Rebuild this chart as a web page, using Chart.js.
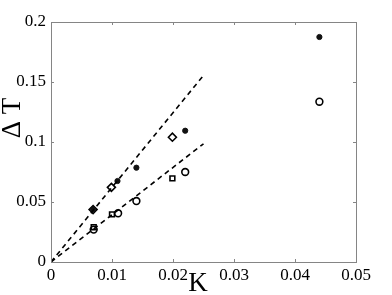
<!DOCTYPE html>
<html><head><meta charset="utf-8">
<script src="https://cdn.jsdelivr.net/npm/chart.js@4/dist/chart.umd.min.js"></script>
<style>html,body{margin:0;padding:0;background:#fff}#wrap{width:392px;height:295px;position:relative}</style>
</head><body><div id="wrap"><canvas id="c" width="392" height="295"></canvas></div>
<script>
const xTicks = [0, 0.01, 0.02, 0.03, 0.04, 0.05];
const yTicks = [0, 0.05, 0.1, 0.15, 0.2];
const starK  = [0.0069, 0.0109, 0.0140, 0.0220, 0.0440];
const starT  = [0.0439, 0.0675, 0.0786, 0.1094, 0.1875];
const circK  = [0.0070, 0.0110, 0.0140, 0.0220, 0.0440];
const circT  = [0.0270, 0.0406, 0.0508, 0.0750, 0.1336];
const diamK  = [0.0069, 0.0099, 0.0199];
const diamT  = [0.0437, 0.0622, 0.1040];
const sqK    = [0.0070, 0.0100, 0.0199];
const sqT    = [0.0290, 0.0397, 0.0697];
const fitK   = [0, 0.025];
const fitUpper = [0, 0.1555];
const fitLower = [0, 0.0985];

const pts = (xs, ys) => xs.map((x, i) => ({x, y: ys[i]}));

const frame = {
  id: 'frame',
  afterDatasetsDraw(chart) {
    const {ctx, chartArea: a, scales: {x, y}} = chart;
    ctx.save();
    ctx.strokeStyle = '#858585';
    ctx.lineWidth = 1;
    ctx.strokeRect(Math.round(a.left) + 0.5, Math.round(a.top) + 0.5, Math.round(a.right - a.left), Math.round(a.bottom - a.top));
    const tl = 3;
    ctx.beginPath();
    xTicks.forEach(v => {
      const px = Math.round(x.getPixelForValue(v)) + 0.5;
      ctx.moveTo(px, a.bottom); ctx.lineTo(px, a.bottom - tl);
      ctx.moveTo(px, a.top); ctx.lineTo(px, a.top + tl);
    });
    yTicks.forEach(v => {
      const py = Math.round(y.getPixelForValue(v)) + 0.5;
      ctx.moveTo(a.left, py); ctx.lineTo(a.left + tl, py);
      ctx.moveTo(a.right, py); ctx.lineTo(a.right - tl, py);
    });
    ctx.stroke();
    ctx.fillStyle = '#000';
    ctx.font = '27px "Liberation Serif", "Times New Roman", serif';
    ctx.textAlign = 'center';
    ctx.textBaseline = 'middle';
    ctx.fillText('K', 198, 284);
    ctx.translate(13, 118);
    ctx.rotate(-Math.PI / 2);
    ctx.fillText('Δ T', 0, 0);
    ctx.restore();
  }
};

const tickFont = {family: '"Liberation Serif", "Times New Roman", serif', size: 17};

new Chart(document.getElementById('c'), {
  type: 'scatter',
  data: {
    datasets: [
      {data: pts(fitK, fitUpper), showLine: true, borderColor: '#000', borderWidth: 1.6, borderDash: [5, 4], pointRadius: 0, fill: false},
      {data: pts(fitK, fitLower), showLine: true, borderColor: '#000', borderWidth: 1.6, borderDash: [5, 4], pointRadius: 0, fill: false},
      {data: pts(starK, starT), pointStyle: 'circle', pointRadius: 2.6, backgroundColor: '#111', borderColor: '#111', borderWidth: 1},
      {data: pts(circK, circT), pointStyle: 'circle', pointRadius: 3.4, backgroundColor: 'rgba(0,0,0,0)', borderColor: '#000', borderWidth: 1.6},
      {data: pts(diamK, diamT), pointStyle: 'rectRot', pointRadius: 4, backgroundColor: 'rgba(0,0,0,0)', borderColor: '#000', borderWidth: 1.6},
      {data: pts(sqK, sqT), pointStyle: 'rect', pointRadius: 3.4, backgroundColor: 'rgba(0,0,0,0)', borderColor: '#000', borderWidth: 1.6}
    ]
  },
  options: {
    responsive: false,
    animation: false,
    layout: {padding: {left: 0, right: 36, top: 22, bottom: 0}},
    plugins: {legend: {display: false}, tooltip: {enabled: false}},
    scales: {
      x: {
        type: 'linear', min: 0, max: 0.05,
        afterBuildTicks: s => { s.ticks = xTicks.map(v => ({value: v})); },
        afterFit: s => { s.height = 33; },
        grid: {display: false, drawTicks: false},
        border: {display: false},
        ticks: {color: '#000', font: tickFont, padding: 3, maxRotation: 0, callback: v => String(v)}
      },
      y: {
        type: 'linear', min: 0, max: 0.2,
        afterBuildTicks: s => { s.ticks = yTicks.map(v => ({value: v})); },
        afterFit: s => { s.width = 51; },
        grid: {display: false, drawTicks: false},
        border: {display: false},
        ticks: {color: '#000', font: tickFont, padding: 5, callback: v => String(v)}
      }
    }
  },
  plugins: [frame]
});
</script></body></html>
